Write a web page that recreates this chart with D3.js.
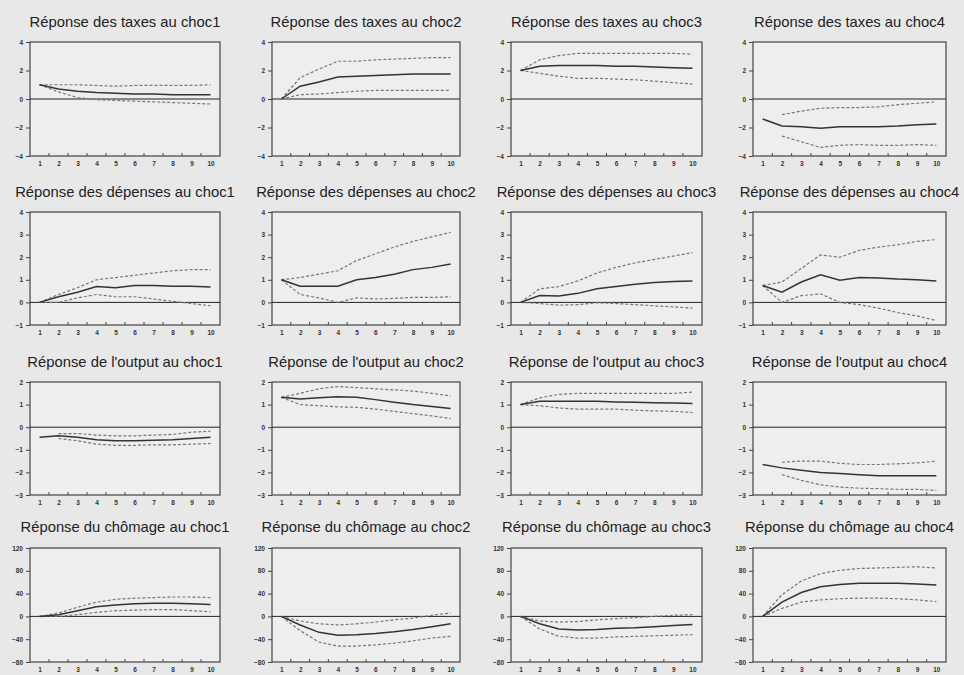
<!DOCTYPE html>
<html><head><meta charset="utf-8">
<script src="https://cdn.jsdelivr.net/npm/d3@7/dist/d3.min.js"></script>
<style>body{margin:0;background:#e8e8e8;}svg{display:block;}</style>
</head><body>
<svg id="c" width="964" height="675"></svg>
<script>
const horizons = [1,2,3,4,5,6,7,8,9,10];
const variables = ["des taxes","des dépenses","de l'output","du chômage"];
const chocs = ["choc1","choc2","choc3","choc4"];
const yDomains = [[-4,4],[-1,4],[-3,2],[-80,120]];
const yTicks = [[-4,-2,0,2,4],[-1,0,1,2,3,4],[-3,-2,-1,0,1,2],[-80,-40,0,40,80,120]];

// responses: central, upper, lower
const taxes_c1 = [[1.0,0.7,0.55,0.45,0.4,0.35,0.35,0.3,0.3,0.3],[1.0,1.0,1.0,0.95,0.9,0.95,0.95,0.95,0.95,1.0],[1.0,0.5,0.1,-0.05,-0.1,-0.15,-0.2,-0.25,-0.3,-0.35]];
const taxes_c2 = [[0,0.9,1.2,1.55,1.6,1.65,1.7,1.75,1.75,1.75],[0,1.5,2.1,2.65,2.65,2.75,2.8,2.85,2.9,2.9],[0,0.3,0.35,0.45,0.55,0.6,0.6,0.6,0.6,0.6]];
const taxes_c3 = [[2.0,2.3,2.35,2.35,2.35,2.3,2.3,2.25,2.2,2.15],[2.0,2.75,3.05,3.2,3.2,3.2,3.2,3.2,3.2,3.15],[2.0,1.8,1.6,1.45,1.45,1.4,1.35,1.25,1.15,1.05]];
const taxes_c4 = [[-1.4,-1.9,-1.95,-2.05,-1.95,-1.95,-1.95,-1.9,-1.8,-1.75],[null,-1.1,-0.85,-0.65,-0.6,-0.6,-0.55,-0.4,-0.3,-0.2],[null,-2.6,-3.0,-3.4,-3.25,-3.2,-3.25,-3.25,-3.2,-3.25]];
const dep_c1 = [[0,0.25,0.45,0.7,0.65,0.75,0.75,0.72,0.72,0.68],[0,0.35,0.65,1.0,1.1,1.2,1.3,1.4,1.45,1.45],[0,0.0,0.2,0.35,0.25,0.25,0.15,0.05,-0.05,-0.15]];
const dep_c2 = [[1.0,0.72,0.72,0.72,1.0,1.1,1.25,1.45,1.55,1.7],[1.0,1.1,1.25,1.4,1.85,2.15,2.45,2.7,2.9,3.1],[1.0,0.35,0.2,0.0,0.2,0.15,0.18,0.22,0.22,0.25]];
const dep_c3 = [[0,0.3,0.28,0.4,0.6,0.7,0.8,0.88,0.92,0.95],[0,0.6,0.7,0.95,1.3,1.55,1.75,1.9,2.05,2.2],[0,-0.05,-0.12,-0.1,-0.02,-0.05,-0.1,-0.15,-0.2,-0.25]];
const dep_c4 = [[0.75,0.45,0.9,1.22,0.98,1.1,1.08,1.03,1.0,0.95],[0.75,0.9,1.5,2.1,2.0,2.3,2.45,2.55,2.7,2.78],[0.75,0.0,0.3,0.38,0.0,-0.1,-0.25,-0.45,-0.6,-0.8]];
const out_c1 = [[-0.45,-0.38,-0.45,-0.55,-0.6,-0.6,-0.58,-0.55,-0.5,-0.45],[null,-0.28,-0.28,-0.35,-0.38,-0.38,-0.35,-0.32,-0.22,-0.18],[null,-0.5,-0.6,-0.75,-0.8,-0.8,-0.78,-0.78,-0.75,-0.72]];
const out_c2 = [[1.32,1.25,1.3,1.35,1.32,1.22,1.1,1.0,0.92,0.83],[1.32,1.5,1.7,1.8,1.75,1.7,1.65,1.6,1.5,1.38],[1.32,1.0,0.95,0.9,0.88,0.8,0.7,0.6,0.5,0.38]];
const out_c3 = [[1.0,1.15,1.15,1.15,1.15,1.12,1.1,1.08,1.07,1.05],[1.0,1.3,1.45,1.5,1.5,1.5,1.5,1.5,1.5,1.55],[1.0,0.95,0.85,0.8,0.8,0.8,0.75,0.72,0.7,0.65]];
const out_c4 = [[-1.65,-1.8,-1.9,-2.0,-2.05,-2.1,-2.15,-2.15,-2.15,-2.15],[null,-1.55,-1.5,-1.5,-1.6,-1.65,-1.65,-1.62,-1.58,-1.5],[null,-2.1,-2.35,-2.55,-2.65,-2.7,-2.72,-2.75,-2.75,-2.8]];
const cho_c1 = [[0,3,10,17,20,22,23,23,22,21],[0,6,16,25,30,32,33,34,34,33],[0,0,3,7,10,11,12,12,10,8]];
const cho_c2 = [[0,-15,-28,-33,-32,-30,-27,-23,-18,-13],[0,-8,-13,-15,-13,-10,-6,-3,2,6],[0,-25,-45,-52,-52,-50,-47,-43,-38,-35]];
const cho_c3 = [[0,-13,-22,-24,-23,-21,-20,-18,-16,-14],[0,-8,-10,-9,-6,-4,-2,0,2,3],[0,-22,-35,-38,-38,-36,-35,-34,-33,-32]];
const cho_c4 = [[0,25,42,52,56,58,58,58,57,55],[0,38,62,75,81,84,85,86,87,85],[0,14,25,29,31,32,32,31,29,26]];

const panels = [
  [taxes_c1,taxes_c2,taxes_c3,taxes_c4],
  [dep_c1,dep_c2,dep_c3,dep_c4],
  [out_c1,out_c2,out_c3,out_c4],
  [cho_c1,cho_c2,cho_c3,cho_c4]
];

const svg = d3.select("#c");
const colX = [[30,220],[272,460],[511,702],[753,946]];
const rowY = [[42,156],[212,325],[382,495],[548,662]];
const titleY = [27,197,367,532];

for (let r=0;r<4;r++){
  for (let c=0;c<4;c++){
    const [x0,x1] = colX[c], [y0,y1] = rowY[r];
    const x = d3.scaleLinear().domain([0.5,10.5]).range([x0,x1]);
    const y = d3.scaleLinear().domain(yDomains[r]).range([y1,y0]);
    const g = svg.append("g");
    g.append("rect").attr("x",x0).attr("y",y0).attr("width",x1-x0).attr("height",y1-y0)
      .attr("fill","#eeeeee").attr("stroke","#444").attr("stroke-width",1.2);
    g.append("text").attr("x",(x0+x1)/2).attr("y",titleY[r]).attr("text-anchor","middle")
      .attr("font-family","Liberation Sans, Arial, sans-serif").attr("font-size",14.8).attr("fill","#222")
      .text("Réponse " + variables[r] + " au " + chocs[c]);
    const ya = d3.axisLeft(y).tickValues(yTicks[r]).tickSize(4).tickPadding(3).tickFormat(d3.format("d"));
    const yg = g.append("g").attr("transform",`translate(${x0},0)`).call(ya);
    yg.select(".domain").remove();
    yg.selectAll("line").attr("stroke","#444");
    yg.selectAll("text").attr("font-family","Liberation Sans, Arial, sans-serif").attr("font-size",6.5).attr("font-weight","bold").attr("fill","#333");
    const xa = d3.axisBottom(x).tickValues(horizons).tickSize(0).tickPadding(5).tickFormat(d3.format("d"));
    const xg = g.append("g").attr("transform",`translate(0,${y1})`).call(xa);
    xg.select(".domain").remove();
    xg.selectAll("text").attr("font-family","Liberation Sans, Arial, sans-serif").attr("font-size",6.5).attr("font-weight","bold").attr("fill","#333");
    const halfTicks = d3.range(1.5,10.5,1);
    g.selectAll(null).data(halfTicks).enter().append("line")
      .attr("x1",d=>x(d)).attr("x2",d=>x(d)).attr("y1",y1).attr("y2",y1-3).attr("stroke","#444");
    g.append("line").attr("x1",x0).attr("x2",x1).attr("y1",y(0)).attr("y2",y(0)).attr("stroke","#222").attr("stroke-width",1);
    const [cen,up,lo] = panels[r][c];
    const line = d3.line().defined(d=>d[1]!==null).x(d=>x(d[0])).y(d=>y(d[1]));
    const toPts = arr => horizons.map((h,i)=>[h,arr[i]]);
    [up,lo].forEach(s=>{
      g.append("path").attr("d",line(toPts(s))).attr("fill","none").attr("stroke","#777")
        .attr("stroke-width",1.2).attr("stroke-dasharray","3,2");
    });
    g.append("path").attr("d",line(toPts(cen))).attr("fill","none").attr("stroke","#333").attr("stroke-width",1.5);
  }
}
</script>
</body></html>
